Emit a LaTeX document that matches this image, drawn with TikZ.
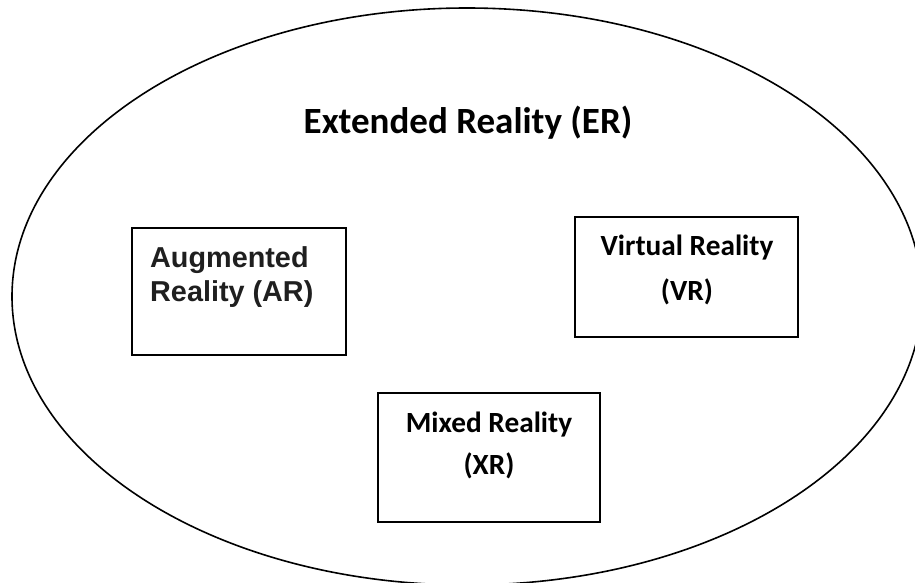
\documentclass[tikz,border=0pt]{standalone}
\usepackage{fontspec}
\setmainfont{Carlito}
\newfontfamily\arialb{Liberation Sans}[BoldFont={* Bold}]
\usetikzlibrary{shapes.geometric}
\begin{document}
\begin{tikzpicture}[x=1pt,y=-1pt,
  frame/.style={draw=black,line width=1.8pt,inner sep=0pt},
  calt/.style={font=\fontsize{29.3}{34}\selectfont\bfseries,anchor=base,inner sep=0pt},
  art/.style={font=\arialb\fontsize{28.8}{34}\selectfont\bfseries,anchor=base west,inner sep=0pt,text=black!88}]
\useasboundingbox (0,0) rectangle (915,583);
\node[draw=black,line width=1.6pt,ellipse,minimum width=910pt,minimum height=577pt,inner sep=0pt] (er) at (467,296.5) {};
\node[font=\fontsize{37}{42}\selectfont\bfseries,anchor=base,inner sep=0pt] (title) at (468,134) {Extended Reality (ER)};
% AR
\node[frame,minimum width=214pt,minimum height=127pt] (arbox) at (239,291.5) {};
\node[art] (ar1) at (150,267) {Augmented};
\node[art] (ar2) at (150,301) {Reality (AR)};
% VR
\node[frame,minimum width=223pt,minimum height=120pt] (vrbox) at (686.5,277) {};
\node[calt] (vr1) at (687,255) {Virtual Reality};
\node[calt] (vr2) at (687,300) {(VR)};
% XR
\node[frame,minimum width=222pt,minimum height=129pt] (xrbox) at (489,457.5) {};
\node[calt] (xr1) at (489,432) {Mixed Reality};
\node[calt] (xr2) at (489,474) {(XR)};
\end{tikzpicture}
\end{document}
